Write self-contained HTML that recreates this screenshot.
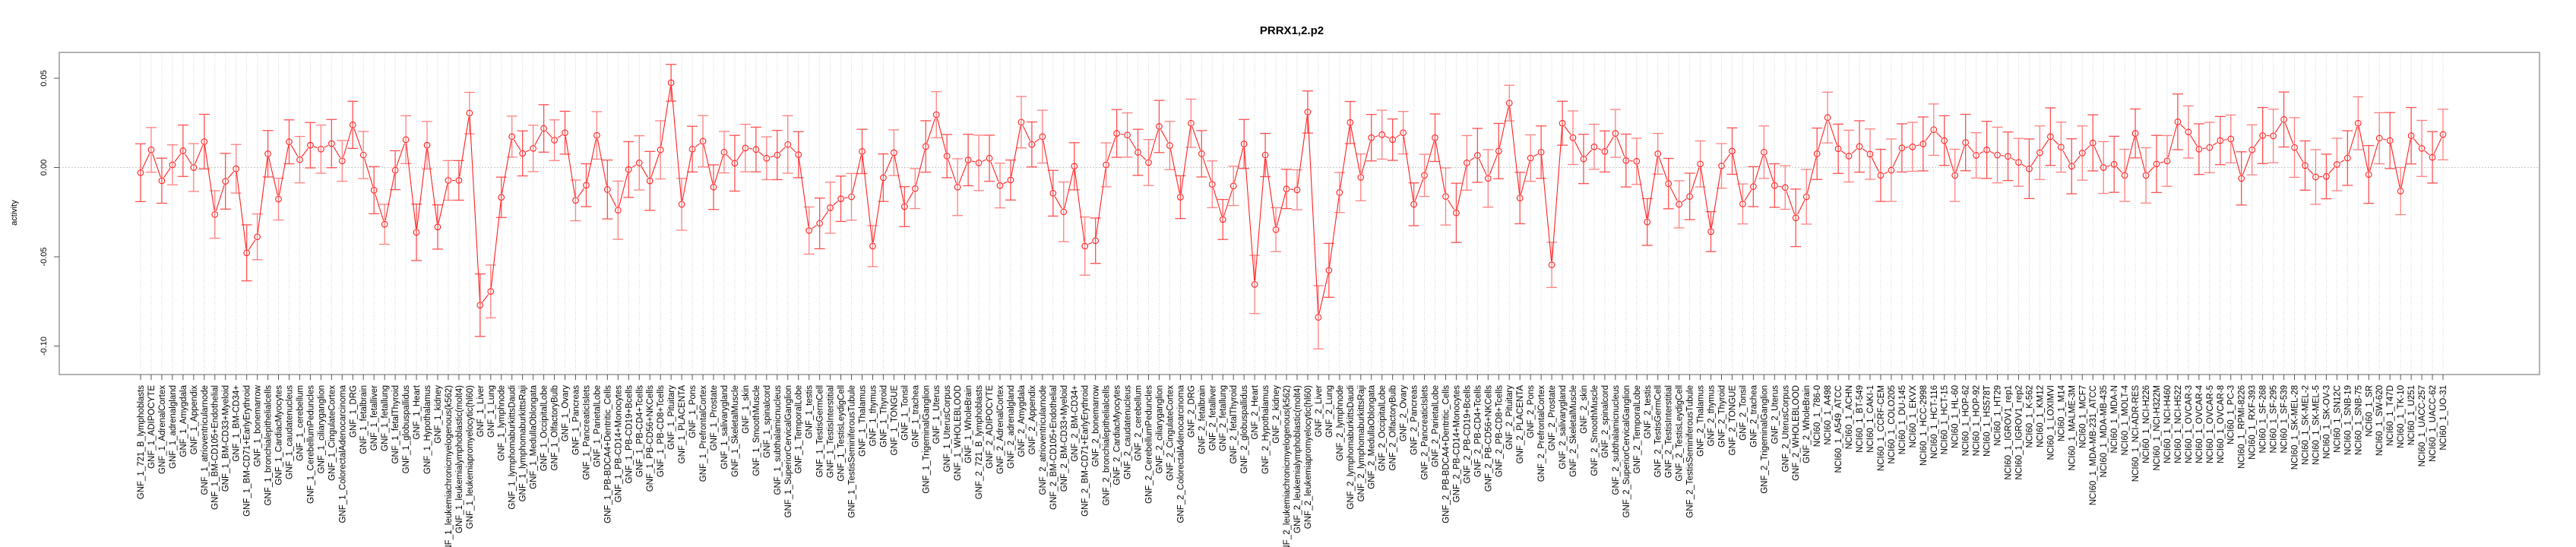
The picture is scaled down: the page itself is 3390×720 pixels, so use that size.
<!DOCTYPE html>
<html><head><meta charset="utf-8"><title>PRRX1,2.p2</title>
<style>
html,body{margin:0;padding:0;background:#fff;}
svg{display:block;font-family:"Liberation Sans",Arial,sans-serif;}
</style></head>
<body>
<svg id="chart" width="3390" height="720" viewBox="0 0 3390 720" xmlns="http://www.w3.org/2000/svg">
<rect x="0" y="0" width="3390" height="720" fill="#fff"/>
<text x="1700" y="45" text-anchor="middle" font-weight="bold" font-size="15">PRRX1,2.p2</text>
<text transform="translate(22,280) rotate(-90)" text-anchor="middle" font-size="11">activity</text>
<g id="grid"></g>
<g id="axes"></g>
<g id="marks"></g>
</svg>
<script>
const gnfTissues = ["721_B_lymphoblasts","ADIPOCYTE","AdrenalCortex","adrenalgland","Amygdala","Appendix","atrioventricularnode","BM-CD105+Endothelial","BM-CD33+Myeloid","BM-CD34+","BM-CD71+EarlyErythroid","bonemarrow","bronchialepithelialcells","CardiacMyocytes","caudatenucleus","cerebellum","CerebellumPeduncles","ciliaryganglion","CingulateCortex","ColorectalAdenocarcinoma","DRG","fetalbrain","fetalliver","fetallung","fetalThyroid","globuspallidus","Heart","Hypothalamus","kidney","leukemiachronicmyelogenous(k562)","leukemialymphoblastic(molt4)","leukemiapromyelocytic(hl60)","Liver","Lung","lymphnode","lymphomaburkittsDaudi","lymphomaburkittsRaji","MedullaOblongata","OccipitalLobe","OlfactoryBulb","Ovary","Pancreas","PancreaticIslets","ParietalLobe","PB-BDCA4+Dentritic_Cells","PB-CD14+Monocytes","PB-CD19+Bcells","PB-CD4+Tcells","PB-CD56+NKCells","PB-CD8+Tcells","Pituitary","PLACENTA","Pons","PrefrontalCortex","Prostate","salivarygland","SkeletalMuscle","skin","SmoothMuscle","spinalcord","subthalamicnucleus","SuperiorCervicalGanglion","TemporalLobe","testis","TestisGermCell","TestisInterstitial","TestisLeydigCell","TestisSeminiferousTubule","Thalamus","thymus","Thyroid","TONGUE","Tonsil","trachea","TrigeminalGanglion","Uterus","UterusCorpus","WHOLEBLOOD","WholeBrain"];
const nciLines = ["786-0","A498","A549_ATCC","ACHN","BT-549","CAKI-1","CCRF-CEM","COLO205","DU-145","EKVX","HCC-2998","HCT-116","HCT-15","HL-60","HOP-62","HOP-92","HS578T","HT29","IGROV1_rep1","IGROV1_rep2","K-562","KM12","LOXIMVI","M14","MALME-3M","MCF7","MDA-MB-231_ATCC","MDA-MB-435","MDA-N","MOLT-4","NCI-ADR-RES","NCI-H226","NCI-H322M","NCI-H460","NCI-H522","OVCAR-3","OVCAR-4","OVCAR-5","OVCAR-8","PC-3","RPMI-8226","RXF-393","SF-268","SF-295","SF-539","SK-MEL-28","SK-MEL-2","SK-MEL-5","SK-OV-3","SN12C","SNB-19","SNB-75","SR","SW-620","T47D","TK-10","U251","UACC-257","UACC-62","UO-31"];
const categories = gnfTissues.map(t => "GNF_1_" + t).concat(gnfTissues.map(t => "GNF_2_" + t)).concat(nciLines.map(t => "NCI60_1_" + t));
const activity = [
-0.0029,0.0099,-0.0074,0.0015,0.0094,0.0000,0.0145,-0.0263,-0.0077,-0.0007,-0.0478,-0.0388,0.0077,-0.0177,0.0144,0.0044,0.0125,0.0103,0.0134,0.0037,0.0239,0.0070,-0.0127,
-0.0318,-0.0015,0.0156,-0.0363,0.0125,-0.0333,-0.0072,-0.0072,0.0305,-0.0771,-0.0694,-0.0167,0.0173,0.0079,0.0107,0.0219,0.0153,0.0195,-0.0184,-0.0099,0.0180,-0.0123,-0.0239,-0.0011,
0.0026,-0.0075,0.0099,0.0475,-0.0206,0.0103,0.0147,-0.0110,0.0086,0.0024,0.0109,0.0101,0.0052,0.0070,0.0129,0.0072,-0.0353,-0.0313,-0.0225,-0.0175,-0.0164,0.0090,-0.0440,-0.0057,
0.0083,-0.0219,-0.0118,0.0118,0.0296,0.0064,-0.0110,0.0042,
0.0026,0.0052,-0.0101,-0.0070,0.0254,0.0129,0.0173,-0.0144,-0.0248,0.0007,-0.0440,-0.0410,0.0015,0.0191,0.0182,0.0085,
0.0028,0.0230,0.0123,-0.0166,0.0248,0.0077,-0.0094,-0.0291,-0.0103,0.0132,-0.0655,0.0070,-0.0348,-0.0120,-0.0125,0.0311,-0.0839,-0.0576,-0.0140,0.0252,-0.0055,0.0167,0.0184,
0.0156,0.0195,-0.0206,-0.0044,0.0167,-0.0162,-0.0254,0.0026,0.0068,-0.0061,0.0092,0.0361,-0.0171,0.0053,0.0086,-0.0545,0.0248,0.0167,0.0048,0.0116,0.0090,0.0191,0.0039,0.0035,
-0.0305,0.0077,-0.0090,-0.0206,-0.0162,0.0020,-0.0359,0.0009,0.0092,-0.0204,-0.0107,0.0086,-0.0101,-0.0112,-0.0282,-0.0164,
0.0077,0.0280,0.0105,0.0064,0.0118,0.0075,-0.0044,-0.0015,
0.0110,0.0116,0.0132,0.0212,0.0151,-0.0044,0.0140,0.0068,0.0099,0.0070,0.0063,0.0029,-0.0007,0.0083,0.0173,0.0114,0.0007,0.0081,0.0138,0.0000,0.0018,-0.0044,0.0191,-0.0044,
0.0020,0.0037,0.0256,0.0199,0.0103,0.0112,0.0151,0.0160,-0.0061,0.0099,0.0179,0.0177,0.0269,0.0112,0.0011,-0.0053,-0.0050,0.0017,0.0053,0.0248,-0.0039,0.0164,0.0151,-0.0132,
0.0178,0.0107,0.0057,0.0185];
const errors = [
0.0162,0.0125,0.0126,0.0112,0.0144,0.0134,0.0153,0.0133,0.0156,0.0136,0.0157,0.0128,0.0130,0.0117,0.0123,0.0130,0.0127,0.0135,0.0135,0.0114,0.0132,0.0132,0.0132,
0.0112,0.0109,0.0134,0.0158,0.0133,0.0124,0.0111,0.0111,0.0116,0.0175,0.0148,0.0113,0.0115,0.0126,0.0130,0.0133,0.0114,0.0120,0.0114,0.0120,0.0133,0.0165,0.0163,0.0156,
0.0152,0.0165,0.0163,0.0103,0.0145,0.0128,0.0144,0.0125,0.0116,0.0156,0.0133,0.0125,0.0120,0.0138,0.0161,0.0129,0.0132,0.0142,0.0143,0.0127,0.0131,0.0124,0.0115,0.0133,
0.0128,0.0112,0.0112,0.0144,0.0129,0.0121,0.0159,0.0144,
0.0155,0.0129,0.0125,0.0112,0.0144,0.0126,0.0148,0.0128,0.0167,0.0132,0.0163,0.0127,0.0123,0.0134,0.0124,0.0129,
0.0129,0.0146,0.0135,0.0120,0.0135,0.0130,0.0131,0.0112,0.0110,0.0137,0.0163,0.0121,0.0123,0.0110,0.0112,0.0118,0.0177,0.0151,0.0112,0.0118,0.0131,0.0130,0.0137,
0.0116,0.0119,0.0120,0.0118,0.0133,0.0160,0.0166,0.0153,0.0151,0.0161,0.0155,0.0100,0.0144,0.0130,0.0147,0.0127,0.0123,0.0150,0.0138,0.0126,0.0115,0.0134,0.0148,0.0129,
0.0131,0.0114,0.0141,0.0132,0.0130,0.0129,0.0112,0.0125,0.0130,0.0112,0.0112,0.0147,0.0122,0.0122,0.0161,0.0153,
0.0144,0.0142,0.0138,0.0145,0.0144,0.0141,0.0146,0.0175,
0.0135,0.0137,0.0151,0.0144,0.0139,0.0146,0.0158,0.0127,0.0160,0.0156,0.0136,0.0134,0.0167,0.0150,0.0161,0.0140,0.0154,0.0152,0.0157,0.0145,0.0157,0.0146,0.0137,0.0155,
0.0160,0.0142,0.0156,0.0146,0.0142,0.0141,0.0135,0.0134,0.0149,0.0140,0.0157,0.0150,0.0154,0.0167,0.0138,0.0153,0.0125,0.0147,0.0153,0.0148,0.0162,0.0143,0.0157,0.0132,
0.0158,0.0157,0.0144,0.0142];
const yTickValues = [0.05, 0.00, -0.05, -0.10];
const yTickLabels = ["0.05", "0.00", "-0.05", "-0.10"];

const NS = "http://www.w3.org/2000/svg";
const FRAME = {left: 78, right: 3342, top: 69, bottom: 493};
const n = categories.length;
const X_FIRST = 185, X_LAST = 3215;
function xPos(i) { return X_FIRST + i * (X_LAST - X_FIRST) / (n - 1); }
const Y0 = 220.5, YS = 2350;
function yPos(v) { return Y0 - v * YS; }
function mk(tag, attrs, parent) {
  const e = document.createElementNS(NS, tag);
  for (const k in attrs) e.setAttribute(k, attrs[k]);
  parent.appendChild(e);
  return e;
}
const grid = document.getElementById("grid");
const axes = document.getElementById("axes");
const marks = document.getElementById("marks");

for (let i = 0; i < n; i++) {
  const g = mk("line", {x1: xPos(i), x2: xPos(i), y1: FRAME.top, y2: FRAME.bottom, stroke: "#d0d0d0", "stroke-width": 1, "stroke-dasharray": "1,2"}, grid);
  
  
}
const zl = mk("line", {x1: FRAME.left, x2: FRAME.right, y1: yPos(0), y2: yPos(0), stroke: "#c8c8c8", "stroke-width": 1, "stroke-dasharray": "2,2"}, grid);



const fr = mk("rect", {x: FRAME.left, y: FRAME.top, width: FRAME.right - FRAME.left, height: FRAME.bottom - FRAME.top, fill: "none", stroke: "#999", "stroke-width": 1.5}, axes);



for (let k = 0; k < yTickValues.length; k++) {
  const y = yPos(yTickValues[k]);
  const t = mk("line", {x1: FRAME.left - 7, x2: FRAME.left, y1: y, y2: y, stroke: "#555", "stroke-width": 1}, axes);
  
  
  const lb = mk("text", {transform: "translate(" + (FRAME.left - 17) + "," + y + ") rotate(-90)", "text-anchor": "middle", "font-size": 11, fill: "#000"}, axes);
  lb.textContent = yTickLabels[k];
  
  
}

for (let i = 0; i < n; i++) {
  const x = xPos(i);
  const t = mk("line", {x1: x, x2: x, y1: FRAME.bottom, y2: FRAME.bottom + 7, stroke: "#555", "stroke-width": 1}, axes);
  
  
  const lb = mk("text", {transform: "translate(" + (x + 4) + "," + (FRAME.bottom + 14) + ") rotate(-90)", "text-anchor": "end", "font-size": 11.5, fill: "#000"}, axes);
  lb.textContent = categories[i];
  
  
}

for (let i = 0; i < n; i++) {
  const x = xPos(i);
  const yh = yPos(activity[i] + errors[i]);
  const yl = yPos(activity[i] - errors[i]);
  const col = (i % 2 === 0) ? "#ff5050" : "#ff8080";
  const eb = mk("g", {stroke: col, "stroke-width": 1.3, fill: "none"}, marks);
  
  
  mk("line", {x1: x, x2: x, y1: yh, y2: yl}, eb);
  mk("line", {x1: x - 7, x2: x + 7, y1: yh, y2: yh}, eb);
  mk("line", {x1: x - 7, x2: x + 7, y1: yl, y2: yl}, eb);
}

for (let i = 0; i < n - 1; i++) {
  const x1 = xPos(i), y1 = yPos(activity[i]), x2 = xPos(i + 1), y2 = yPos(activity[i + 1]);
  const dx = x2 - x1, dy = y2 - y1, L = Math.hypot(dx, dy), g = 5;
  if (L <= 2 * g) continue;
  const s = mk("line", {x1: x1 + dx * g / L, y1: y1 + dy * g / L, x2: x2 - dx * g / L, y2: y2 - dy * g / L, stroke: "#ff2020", "stroke-width": 1.1}, marks);
  
  
}

for (let i = 0; i < n; i++) {
  const c = mk("circle", {cx: xPos(i), cy: yPos(activity[i]), r: 3.8, fill: "none", stroke: "#ff2020", "stroke-width": 1.1}, marks);
  
  
}
</script>
</body></html>
